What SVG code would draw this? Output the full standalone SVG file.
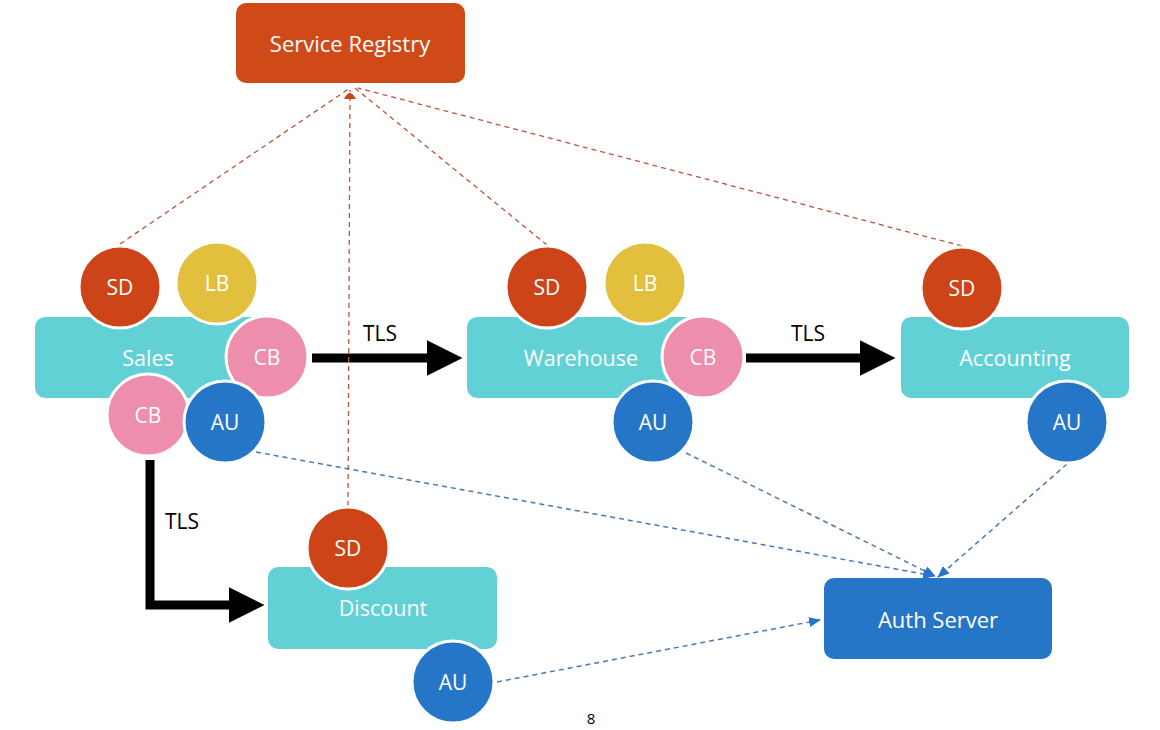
<svg xmlns="http://www.w3.org/2000/svg" width="1160" height="730" viewBox="0 0 1160 730">
<defs>
<style>
.lbl{font-family:"Open Sans","Noto Sans","Liberation Sans",sans-serif;fill:#fff;text-anchor:middle;dominant-baseline:central}
.n{font-size:21.5px}
.s{font-size:21px}
.svc{fill:#62D1D6}
.c{stroke:#fff;stroke-width:3}
.sd{fill:#CC4417}
.lb{fill:#E2BF3D}
.cb{fill:#EE8EAD}
.au{fill:#2676C8}
.tls{stroke:#000;stroke-width:9;fill:none}
.reg{stroke:#B8553C;stroke-width:1.3;stroke-dasharray:5 4;fill:none}
.auth{stroke:#4A78B4;stroke-width:1.5;stroke-dasharray:5 4;fill:none}
.t{font-family:"Open Sans","Noto Sans","Liberation Sans",sans-serif;fill:#000;font-size:21px;text-anchor:middle;dominant-baseline:central}
</style>
<marker id="ah" markerWidth="4" markerHeight="4" refX="1.5" refY="2" orient="auto" markerUnits="strokeWidth"><path d="M0,0L4,2L0,4Z" fill="#000"/></marker>
<marker id="ar" markerWidth="12" markerHeight="12" refX="9" refY="6" orient="auto" markerUnits="userSpaceOnUse"><path d="M0,0Q12,6 0,12Z" fill="#CC4417"/></marker>
<marker id="ab" markerWidth="12" markerHeight="10" refX="11" refY="5" orient="auto" markerUnits="userSpaceOnUse"><path d="M0,0L12,5L0,10Z" fill="#2676C8"/></marker>
</defs>
<rect width="1160" height="730" fill="#fff"/>
<g id="connectors">
<path class="tls" d="M312,358H440" marker-end="url(#ah)"/>
<path class="tls" d="M746,358H873" marker-end="url(#ah)"/>
<path class="tls" d="M150,460V605H242" marker-end="url(#ah)"/>
<text class="t" x="380" y="333">TLS</text>
<text class="t" x="808" y="333">TLS</text>
<text class="t" x="182" y="521">TLS</text>
<path class="reg" d="M120,244L350,88"/>
<path class="reg" d="M348,506L350,90" marker-end="url(#ar)"/>
<path class="reg" d="M547,245L355,88"/>
<path class="reg" d="M962,246L358,88"/>
<path class="auth" d="M256,452L934,576" marker-end="url(#ab)"/>
<path class="auth" d="M686,453L935,576" marker-end="url(#ab)"/>
<path class="auth" d="M1067,464L938,577" marker-end="url(#ab)"/>
<path class="auth" d="M497,682L820,620" marker-end="url(#ab)"/>
</g>
<g id="registry">
<rect x="236" y="3" width="229" height="80" rx="10" fill="#CF4A17"/>
<text class="lbl" x="350" y="43" font-size="22">Service Registry</text>
</g>
<g id="auth-server">
<rect x="824" y="578" width="228" height="81" rx="10" fill="#2676C8"/>
<text class="lbl" x="938" y="619" font-size="22">Auth Server</text>
</g>
<g id="sales">
<rect class="svc" x="35" y="317" width="228" height="81" rx="10"/>
<text class="lbl n" x="148" y="357">Sales</text>
<circle class="c sd" cx="120" cy="287" r="41"/><text class="lbl s" x="120" y="287">SD</text>
<circle class="c lb" cx="217" cy="283" r="41"/><text class="lbl s" x="217" y="283">LB</text>
<circle class="c cb" cx="267" cy="357" r="41"/><text class="lbl s" x="267" y="357">CB</text>
<circle class="c cb" cx="148" cy="415" r="41"/><text class="lbl s" x="148" y="415">CB</text>
<circle class="c au" cx="225" cy="422" r="41"/><text class="lbl s" x="225" y="422">AU</text>
</g>
<g id="warehouse">
<rect class="svc" x="467" y="317" width="228" height="81" rx="10"/>
<text class="lbl n" x="581" y="357">Warehouse</text>
<circle class="c sd" cx="547" cy="287" r="41"/><text class="lbl s" x="547" y="287">SD</text>
<circle class="c lb" cx="645" cy="283" r="41"/><text class="lbl s" x="645" y="283">LB</text>
<circle class="c cb" cx="703" cy="357" r="41"/><text class="lbl s" x="703" y="357">CB</text>
<circle class="c au" cx="653" cy="422" r="41"/><text class="lbl s" x="653" y="422">AU</text>
</g>
<g id="accounting">
<rect class="svc" x="901" y="317" width="228" height="81" rx="10"/>
<text class="lbl n" x="1015" y="357">Accounting</text>
<circle class="c sd" cx="962" cy="288" r="41"/><text class="lbl s" x="962" y="288">SD</text>
<circle class="c au" cx="1067" cy="422" r="41"/><text class="lbl s" x="1067" y="422">AU</text>
</g>
<g id="discount">
<rect class="svc" x="268" y="567" width="229" height="82" rx="10"/>
<text class="lbl n" x="383" y="607">Discount</text>
<circle class="c sd" cx="348" cy="548" r="41"/><text class="lbl s" x="348" y="548">SD</text>
<circle class="c au" cx="453" cy="682" r="41"/><text class="lbl s" x="453" y="682">AU</text>
</g>
<text x="591" y="718" font-family="Open Sans,Liberation Sans,sans-serif" font-size="15" text-anchor="middle" dominant-baseline="central" fill="#000">8</text>
</svg>
